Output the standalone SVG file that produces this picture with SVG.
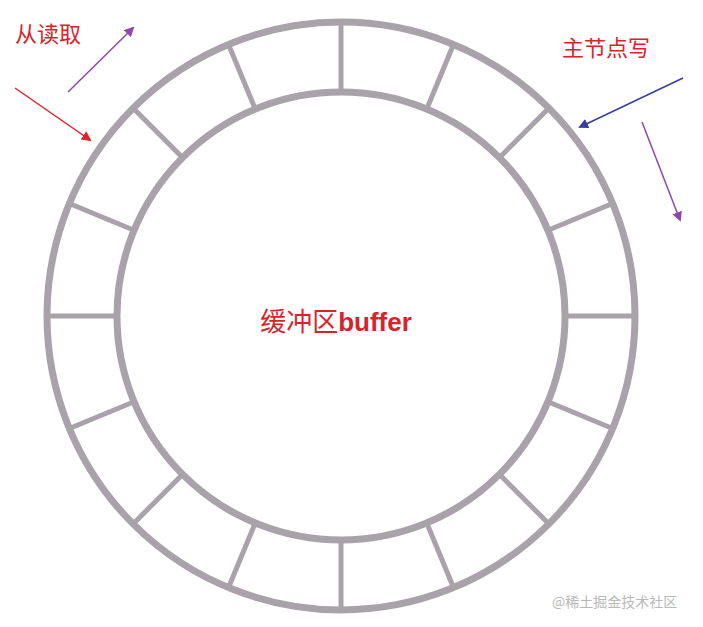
<svg xmlns="http://www.w3.org/2000/svg" width="703" height="627" viewBox="0 0 703 627">
<defs>
<style>
.ring{fill:none;stroke:#aaa2aa;stroke-width:7}
.sp{stroke:#aaa2aa;stroke-width:5}
.t{font-family:"Liberation Serif","Noto Sans CJK SC",serif;fill:#d9232b;font-size:22px}
</style>
<marker id="mr" markerWidth="10" markerHeight="10" refX="8" refY="5" orient="auto" markerUnits="userSpaceOnUse"><path d="M0,0L10,5L0,10z" fill="#e0202a"/></marker>
<marker id="mp" markerWidth="10" markerHeight="10" refX="8" refY="5" orient="auto" markerUnits="userSpaceOnUse"><path d="M0,0L10,5L0,10z" fill="#9146a8"/></marker>
<marker id="mb" markerWidth="10" markerHeight="10" refX="8" refY="5" orient="auto" markerUnits="userSpaceOnUse"><path d="M0,0L10,5L0,10z" fill="#3a3aa8"/></marker>
</defs>
<rect width="703" height="627" fill="#fff"/>
<g id="buffer">
<circle class="ring" cx="341" cy="316" r="294"/>
<circle class="ring" cx="341" cy="316" r="224"/>
<g transform="translate(341,316)">
<line class="sp" x1="0" y1="-226" x2="0" y2="-292" transform="rotate(0)"/>
<line class="sp" x1="0" y1="-226" x2="0" y2="-292" transform="rotate(22.5)"/>
<line class="sp" x1="0" y1="-226" x2="0" y2="-292" transform="rotate(45)"/>
<line class="sp" x1="0" y1="-226" x2="0" y2="-292" transform="rotate(67.5)"/>
<line class="sp" x1="0" y1="-226" x2="0" y2="-292" transform="rotate(90)"/>
<line class="sp" x1="0" y1="-226" x2="0" y2="-292" transform="rotate(112.5)"/>
<line class="sp" x1="0" y1="-226" x2="0" y2="-292" transform="rotate(135)"/>
<line class="sp" x1="0" y1="-226" x2="0" y2="-292" transform="rotate(157.5)"/>
<line class="sp" x1="0" y1="-226" x2="0" y2="-292" transform="rotate(180)"/>
<line class="sp" x1="0" y1="-226" x2="0" y2="-292" transform="rotate(202.5)"/>
<line class="sp" x1="0" y1="-226" x2="0" y2="-292" transform="rotate(225)"/>
<line class="sp" x1="0" y1="-226" x2="0" y2="-292" transform="rotate(247.5)"/>
<line class="sp" x1="0" y1="-226" x2="0" y2="-292" transform="rotate(270)"/>
<line class="sp" x1="0" y1="-226" x2="0" y2="-292" transform="rotate(292.5)"/>
<line class="sp" x1="0" y1="-226" x2="0" y2="-292" transform="rotate(315)"/>
<line class="sp" x1="0" y1="-226" x2="0" y2="-292" transform="rotate(337.5)"/>
</g>
<text x="336" y="331" text-anchor="middle" class="t" style="font-size:26px">缓冲区<tspan font-family="Liberation Sans,sans-serif" font-weight="bold">buffer</tspan></text>
</g>
<g id="connectors" stroke-width="1.5">
<line x1="15" y1="88" x2="90" y2="140" stroke="#e0202a" marker-end="url(#mr)"/>
<line x1="68" y1="92" x2="133" y2="28" stroke="#9146a8" marker-end="url(#mp)"/>
<line x1="683" y1="78" x2="580" y2="127" stroke="#3a3aa8" marker-end="url(#mb)"/>
<line x1="642" y1="122" x2="680" y2="220" stroke="#9146a8" marker-end="url(#mp)"/>
</g>
<text x="15" y="42" class="t">从读取</text>
<text x="562" y="56" class="t">主节点写</text>
<text x="552" y="607" font-family="Noto Sans CJK SC,sans-serif" font-size="14" fill="#b8b8b8">@稀土掘金技术社区</text>
</svg>
